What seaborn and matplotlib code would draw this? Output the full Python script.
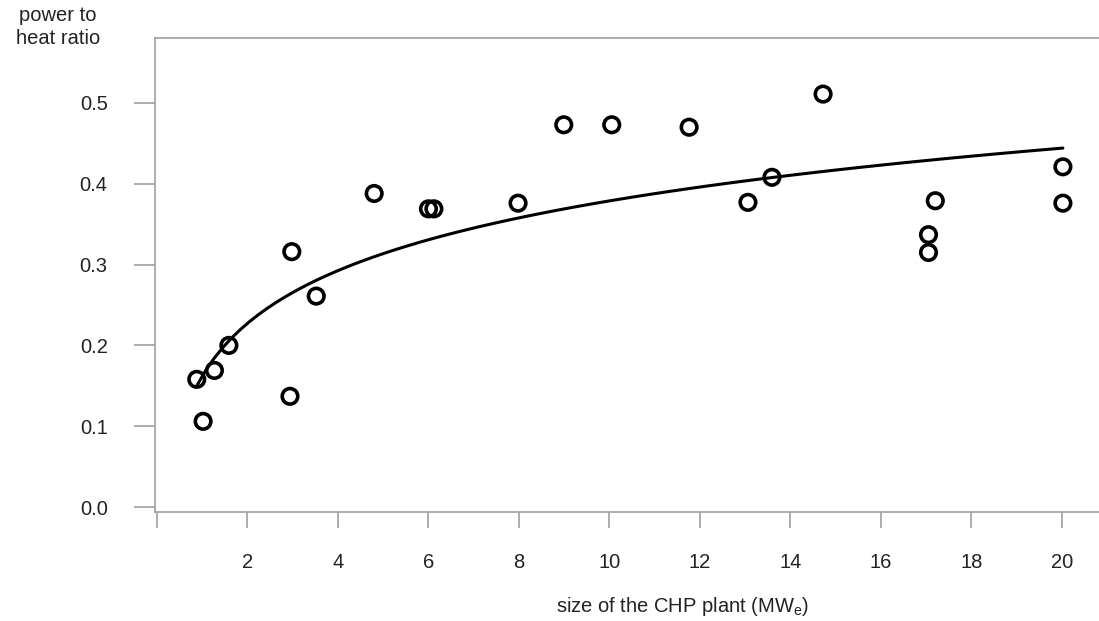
import matplotlib
matplotlib.use('Agg')
import matplotlib.pyplot as plt
import seaborn as sns
import pandas as pd

# CHP plant size (MWe) vs power to heat ratio
plant_size = [0.88, 1.02, 1.27, 1.59, 2.94, 2.98, 3.52, 4.80, 6.00, 6.12, 7.98,
              8.99, 10.05, 11.76, 13.06, 13.59, 14.72, 17.05, 17.05, 17.20, 20.02, 20.02]
power_heat = [0.158, 0.106, 0.169, 0.200, 0.137, 0.316, 0.261, 0.388, 0.369, 0.369, 0.376,
              0.473, 0.473, 0.470, 0.377, 0.408, 0.511, 0.337, 0.315, 0.379, 0.421, 0.376]
x_ticks = [0, 2, 4, 6, 8, 10, 12, 14, 16, 18, 20]
x_tick_labels = ['', '2', '4', '6', '8', '10', '12', '14', '16', '18', '20']
y_ticks = [0.0, 0.1, 0.2, 0.3, 0.4, 0.5]

df = pd.DataFrame({'size': plant_size, 'ratio': power_heat})

sns.set_style('white')
plt.rcParams['font.family'] = ['Liberation Sans', 'DejaVu Sans']

fig = plt.figure(figsize=(10.99, 6.21), dpi=100)
ax = fig.add_axes([0.141, 0.1755, 0.8665, 0.7633])

# scatter + logarithmic trend line
sns.regplot(data=df, x='size', y='ratio', logx=True, ci=None, ax=ax,
            scatter_kws={'facecolors': 'none', 'edgecolors': 'black', 's': 125,
                         'linewidths': 2.6, 'alpha': 1},
            line_kws={'color': 'black', 'lw': 2.2})

ax.set_xlim(-0.044, 21.0)
ax.set_ylim(-0.0062, 0.5804)
ax.set_xticks(x_ticks)
ax.set_xticklabels(x_tick_labels)
ax.set_yticks(y_ticks)
ax.set_yticklabels([f'{v:.1f}' for v in y_ticks])
ax.set_xlabel('')
ax.set_ylabel('')

spine_col = '#a0a0a0'
for side in ['left', 'top', 'bottom']:
    ax.spines[side].set_color(spine_col)
    ax.spines[side].set_linewidth(1.2)
ax.spines['right'].set_visible(False)

ax.tick_params(axis='x', bottom=True, direction='out', length=11.5, width=1.2,
               color=spine_col, pad=18, labelsize=14.5, labelcolor='#222222')
ax.tick_params(axis='y', left=True, direction='out', length=15, width=1.2,
               color=spine_col, pad=19, labelsize=14.5, labelcolor='#222222')

fig.text(58 / 1099, 1 - 27 / 621, 'power to\nheat ratio', ha='center', va='center',
         fontsize=14.5, color='#222222', linespacing=1.3)
fig.text(683 / 1099, 1 - 607 / 621, r'size of the CHP plant (MW$_\mathregular{e}$)',
         ha='center', va='center', fontsize=14.5, color='#222222')

fig.savefig('out.png', dpi=100)
plt.close(fig)
